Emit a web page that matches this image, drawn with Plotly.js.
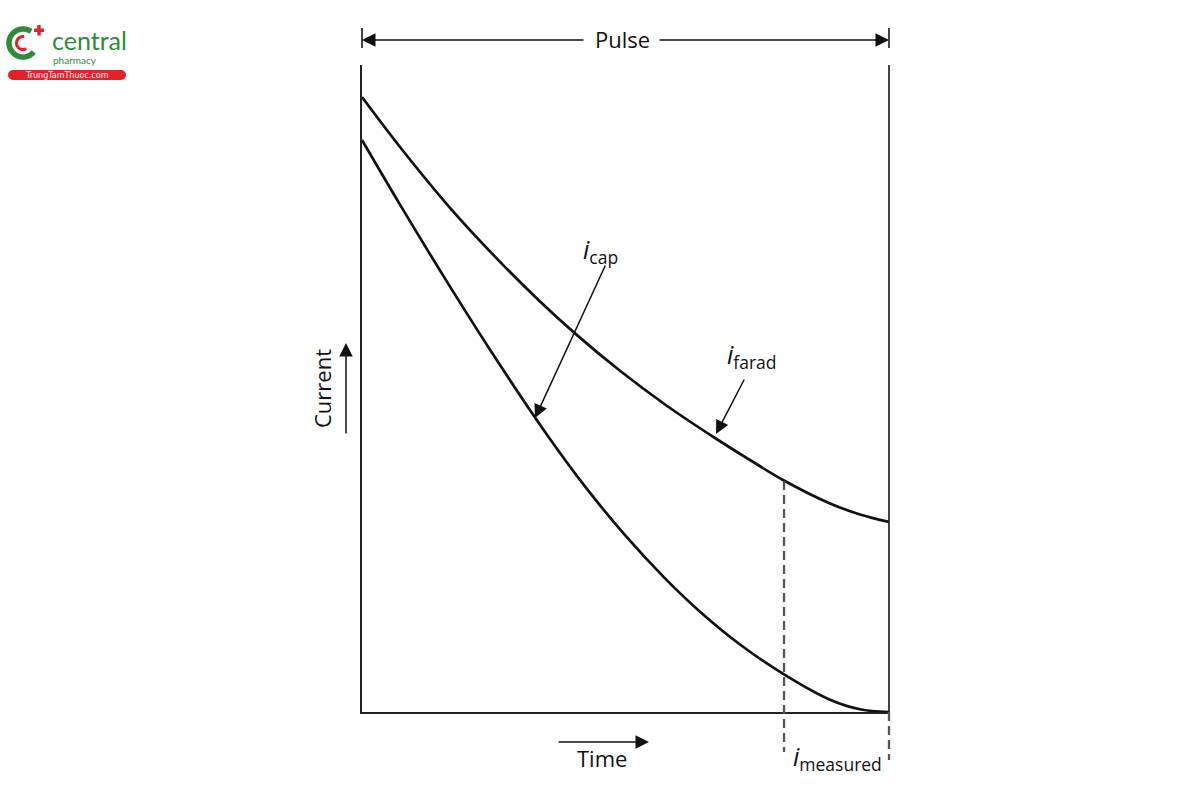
<!DOCTYPE html>
<html>
<head>
<meta charset="utf-8">
<script src="https://cdn.plot.ly/plotly-3.0.1.min.js"></script>
<style>html,body{margin:0;padding:0;background:#fff;}#chart{width:1200px;height:800px;}</style>
</head>
<body>
<div id="chart"></div>
<script>
// Time normalised to the pulse length (0 = pulse start, 1 = pulse end)
const timeFarad = [0, 0.0721, 0.167, 0.2619, 0.3378, 0.408, 0.4896, 0.575, 0.6698, 0.7362, 0.7989, 0.888, 0.945, 1.0];
const currentFarad = [0.9505, 0.8733, 0.7793, 0.6958, 0.6346, 0.5825, 0.5274, 0.4753, 0.4235, 0.3895, 0.3586, 0.3223, 0.3053, 0.2937];

const timeCap = [0, 0.0721, 0.167, 0.2619, 0.351, 0.4231, 0.4991, 0.575, 0.6414, 0.7173, 0.8008, 0.888, 0.945, 1.0];
const currentCap = [0.8841, 0.7842, 0.6575, 0.5362, 0.4286, 0.3487, 0.2733, 0.2065, 0.155, 0.1043, 0.0581, 0.019, 0.0042, 0];

const measureTime = 0.8008;
const measureTopCurrent = 0.357;

const FONT = '"Open Sans", "Liberation Sans", sans-serif';
const INK = '#111';

// pixel -> paper helpers (plot area: x 362..889, y 65..712)
const PX = px => (px - 362) / 527;
const PY = py => (712 - py) / 647;

const traces = [
  {x: timeFarad, y: currentFarad, mode: 'lines', line: {color: INK, width: 2.7, shape: 'spline', smoothing: 1}, hoverinfo: 'skip'},
  {x: timeCap, y: currentCap, mode: 'lines', line: {color: INK, width: 2.7, shape: 'spline', smoothing: 1}, hoverinfo: 'skip'}
];

function arcPath(r, a0, a1) {
  let p = '';
  for (let a = a0; a <= a1; a += 5) {
    const t = a * Math.PI / 180;
    p += (a === a0 ? 'M' : 'L') + (r * Math.cos(t)).toFixed(2) + ',' + (r * Math.sin(t)).toFixed(2) + ' ';
  }
  return p;
}

const shapes = [
  {type: 'line', xref: 'paper', yref: 'paper', x0: 1, x1: 1, y0: 0, y1: 1, line: {color: '#222', width: 1.7}},
  {type: 'line', xref: 'paper', yref: 'paper', x0: 0, x1: 0, y0: PY(48), y1: PY(28), line: {color: '#222', width: 1.7}},
  {type: 'line', xref: 'paper', yref: 'paper', x0: 1, x1: 1, y0: PY(48), y1: PY(28), line: {color: '#222', width: 1.7}},
  {type: 'line', xref: 'paper', yref: 'paper', x0: measureTime, x1: measureTime, y0: measureTopCurrent, y1: PY(752), line: {color: '#555', width: 2.3, dash: '9px,5px'}},
  {type: 'line', xref: 'paper', yref: 'paper', x0: 1, x1: 1, y0: 0, y1: PY(760), line: {color: '#555', width: 2.3, dash: '9px,5px'}},
  // logo
  {type: 'path', xref: 'paper', yref: 'paper', xsizemode: 'pixel', ysizemode: 'pixel', xanchor: PX(23), yanchor: PY(43),
   path: arcPath(14, 55, 320), line: {color: '#2e8b3a', width: 5.5}},
  {type: 'path', xref: 'paper', yref: 'paper', xsizemode: 'pixel', ysizemode: 'pixel', xanchor: PX(23), yanchor: PY(43),
   path: arcPath(6.5, 80, 300), line: {color: '#e32228', width: 3}},
  {type: 'rect', xref: 'paper', yref: 'paper', x0: PX(34), x1: PX(44), y0: PY(32), y1: PY(28.5), fillcolor: '#e32228', line: {width: 0}},
  {type: 'rect', xref: 'paper', yref: 'paper', x0: PX(37.3), x1: PX(40.7), y0: PY(35.5), y1: PY(25), fillcolor: '#e32228', line: {width: 0}},
  {type: 'rect', xref: 'paper', yref: 'paper', x0: PX(13), x1: PX(121), y0: PY(80), y1: PY(70), fillcolor: '#e32228', line: {width: 0}},
  {type: 'circle', xref: 'paper', yref: 'paper', x0: PX(8), x1: PX(18), y0: PY(80), y1: PY(70), fillcolor: '#e32228', line: {width: 0}},
  {type: 'circle', xref: 'paper', yref: 'paper', x0: PX(116), x1: PX(126), y0: PY(80), y1: PY(70), fillcolor: '#e32228', line: {width: 0}}
];

const arrowBase = {showarrow: true, arrowhead: 2, arrowsize: 1.8, arrowwidth: 1.5, arrowcolor: INK, standoff: 0, startstandoff: 0, text: ''};
const txt = (x, y, text, size, extra) => Object.assign({xref: 'paper', yref: 'paper', x: x, y: y, xanchor: 'center', yanchor: 'middle', text: text, showarrow: false, font: {family: FONT, size: size, color: INK}}, extra || {});

const annotations = [
  txt(PX(622), PY(39), 'Pulse', 22),
  Object.assign({}, arrowBase, {xref: 'paper', yref: 'paper', x: 0, y: PY(40), ax: 223, ay: 0}),
  Object.assign({}, arrowBase, {xref: 'paper', yref: 'paper', x: 1, y: PY(40), ax: -231, ay: 0}),
  txt(PX(322), PY(389), 'Current', 22, {textangle: -90}),
  Object.assign({}, arrowBase, {xref: 'paper', yref: 'paper', x: PX(346), y: PY(343), ax: 0, ay: 92}),
  txt(PX(602), PY(758), 'Time', 22),
  Object.assign({}, arrowBase, {xref: 'paper', yref: 'paper', x: PX(649), y: PY(742), ax: -92, ay: 0}),
  txt(PX(837), PY(757), '<i>i</i><sub>measured</sub>', 25),
  txt(PX(600), PY(250), '<i>i</i><sub>cap</sub>', 25),
  Object.assign({}, arrowBase, {xref: 'x', yref: 'y', axref: 'x', ayref: 'y', x: 0.3283, y: 0.4544, ax: 0.463, ay: 0.6924}),
  txt(PX(752), PY(355), '<i>i</i><sub>farad</sub>', 25),
  Object.assign({}, arrowBase, {xref: 'x', yref: 'y', axref: 'x', ayref: 'y', x: 0.6717, y: 0.4297, ax: 0.7268, ay: 0.5162}),
  // logo texts
  txt(PX(89), PY(40), 'central', 25, {font: {family: '"Lato", sans-serif', size: 25, color: '#2e8b3a'}}),
  txt(PX(75), PY(60), 'pharmacy', 10, {font: {family: '"Lato", sans-serif', size: 10, color: '#2e8b3a'}}),
  txt(PX(67), PY(75.5), 'TrungTamThuoc.com', 8, {font: {family: '"DejaVu Sans", sans-serif', size: 8, color: '#fff'}})
];

const layout = {
  width: 1200, height: 800,
  margin: {l: 362, r: 311, t: 65, b: 88, pad: 0},
  paper_bgcolor: '#fff', plot_bgcolor: '#fff',
  showlegend: false,
  xaxis: {range: [0, 1], showgrid: false, zeroline: false, showticklabels: false, ticks: '', showline: true, linecolor: '#222', linewidth: 1.7, fixedrange: true},
  yaxis: {range: [0, 1], showgrid: false, zeroline: false, showticklabels: false, ticks: '', showline: true, linecolor: '#222', linewidth: 1.7, fixedrange: true},
  shapes: shapes,
  annotations: annotations
};

Plotly.newPlot('chart', traces, layout, {displayModeBar: false, staticPlot: true});
</script>
</body>
</html>
